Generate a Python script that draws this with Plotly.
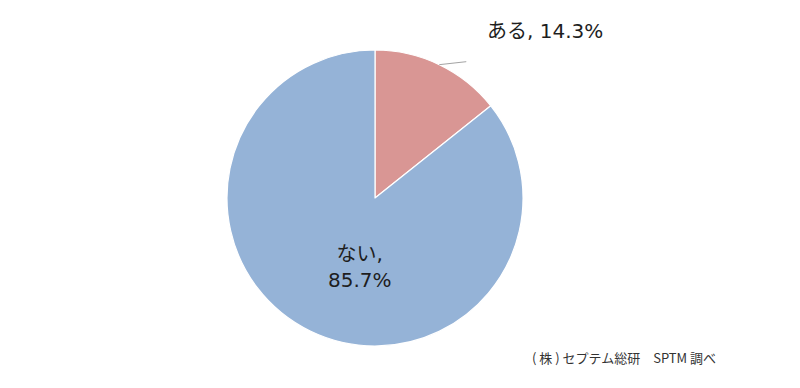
import math
import plotly.graph_objects as go

# Survey answer shares (%)
labels = ["ある", "ない"]
values = [14.3, 85.7]
colors = ["#D99694", "#95B3D7"]
source_note = "( 株 ) セプテム総研　SPTM 調べ"

W, H = 800, 388
cx, cy, r = 375, 198, 148  # pie centre and radius in pixels

label_font = "DejaVu Sans, Noto Sans CJK JP, sans-serif"
note_font = "Noto Sans CJK JP, Noto Sans, sans-serif"

fig = go.Figure(
    go.Pie(
        labels=labels,
        values=values,
        marker=dict(colors=colors, line=dict(color="white", width=1.2)),
        sort=False,
        direction="clockwise",
        rotation=0,
        textinfo="none",
        hoverinfo="label+percent",
        showlegend=False,
        domain=dict(
            x=[(cx - r) / W, (cx + r) / W],
            y=[1 - (cy + r) / H, 1 - (cy - r) / H],
        ),
    )
)

total = sum(values)
fmt = lambda v: f"{v / total * 100:.1f}%"

# Outside label for the small slice with a short leader line
mid_angle = math.radians(values[0] / total * 360 / 2)
px_edge = cx + r * math.sin(mid_angle)
py_edge = cy - r * math.cos(mid_angle)
fig.add_shape(
    type="line",
    xref="paper", yref="paper",
    x0=px_edge / W, y0=1 - py_edge / H,
    x1=(px_edge + 27) / W, y1=1 - (py_edge - 3) / H,
    line=dict(color="#8C8C8C", width=0.8),
)
fig.add_annotation(
    text=f"{labels[0]}, {fmt(values[0])}",
    xref="paper", yref="paper",
    x=545 / W, y=1 - 31 / H,
    xanchor="center", yanchor="middle",
    showarrow=False,
    font=dict(family=label_font, size=20, color="#1E1E1E"),
)

# Inside label for the large slice
fig.add_annotation(
    text=f"{labels[1]},<br>{fmt(values[1])}",
    xref="paper", yref="paper",
    x=360 / W, y=1 - 267 / H,
    xanchor="center", yanchor="middle",
    showarrow=False,
    align="center",
    font=dict(family=label_font, size=20, color="#1E1E1E"),
)

# Source note
fig.add_annotation(
    text=source_note,
    xref="paper", yref="paper",
    x=718 / W, y=1 - 357 / H,
    xanchor="right", yanchor="middle",
    showarrow=False,
    font=dict(family=note_font, size=13, color="#333333"),
)

fig.update_layout(
    width=W, height=H,
    margin=dict(l=0, r=0, t=0, b=0),
    paper_bgcolor="white",
    plot_bgcolor="white",
)

fig.write_html("out.html")
